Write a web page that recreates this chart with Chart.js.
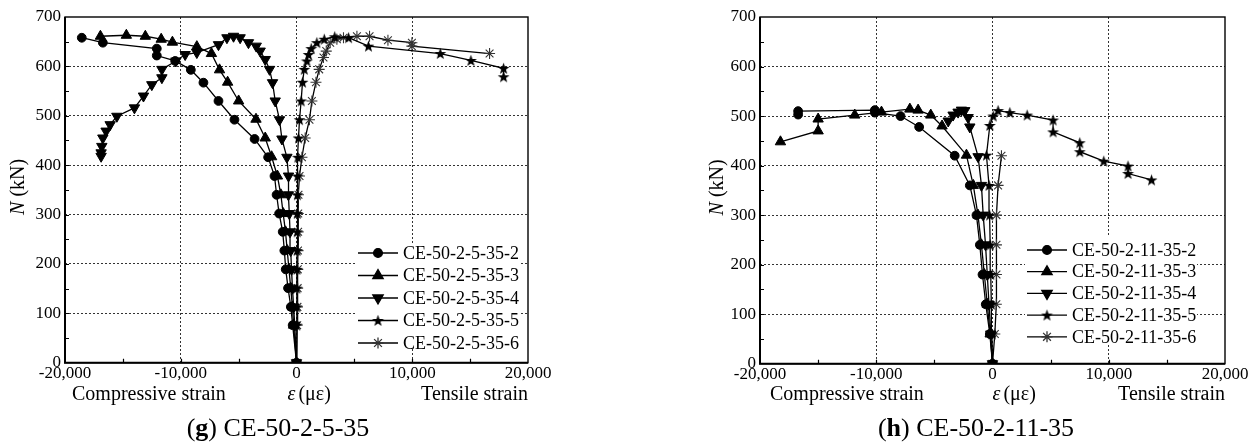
<!DOCTYPE html>
<html><head><meta charset="utf-8">
<script src="https://cdn.jsdelivr.net/npm/chart.js@4.4.0/dist/chart.umd.min.js"></script>
<style>
html,body{margin:0;padding:0;background:#fff;}
#wrap{position:relative;width:1252px;height:443px;overflow:hidden;background:#fff;}
canvas{position:absolute;top:0;}
</style></head><body>
<div id="wrap">
<canvas id="cg" width="626" height="443" style="left:0"></canvas>
<canvas id="ch" width="626" height="443" style="left:626px"></canvas>
</div>
<script>
// ---------- tick values / labels ----------
const xTickValues = [-20000, -10000, 0, 10000, 20000];
const xTickLabels = ['-20,000', '-10,000', '0', '10,000', '20,000'];
const yTickValues = [0, 100, 200, 300, 400, 500, 600, 700];
const yTickLabels = ['0', '100', '200', '300', '400', '500', '600', '700'];

// ---------- (g) CE-50-2-5-35 ----------
const gNames = ['CE-50-2-5-35-2', 'CE-50-2-5-35-3', 'CE-50-2-5-35-4', 'CE-50-2-5-35-5', 'CE-50-2-5-35-6'];
const g2X = [0, -330, -490, -730, -930, -1050, -1190, -1500, -1720, -1900, -2450, -3620, -5360, -6740, -8040, -9130, -10480, -12070, -12070, -16730, -18550];
const g2Y = [0, 76, 113, 151, 189, 227, 265, 302, 340, 378, 416, 453, 492, 530, 567, 593, 611, 622, 636, 648, 658];
const g3X = [0, -250, -350, -500, -650, -800, -950, -1150, -1350, -1650, -2150, -2700, -3500, -5000, -5950, -6650, -7350, -8610, -10720, -11690, -13060, -14700, -16940];
const g3Y = [0, 76, 113, 151, 189, 227, 265, 302, 340, 378, 417, 455, 493, 530, 568, 593, 626, 640, 649, 655, 661, 663, 661];
const g4X = [0, -150, -250, -350, -430, -500, -560, -620, -700, -690, -830, -1260, -1470, -1840, -2070, -2330, -2700, -3140, -3480, -4150, -4870, -5440, -6010, -6740, -8610, -9620, -10420, -11630, -11630, -12500, -13220, -14000, -15520, -16100, -16450, -16730, -16820, -16880, -16880];
const g4Y = [0, 76, 113, 151, 189, 227, 265, 302, 340, 378, 416, 453, 492, 530, 567, 594, 614, 631, 641, 648, 658, 661, 658, 644, 628, 624, 611, 594, 577, 563, 540, 516, 499, 482, 469, 455, 438, 425, 418];
const g5X = [0, 20, 30, 30, 40, 50, 60, 70, 80, 100, 120, 170, 260, 400, 520, 670, 900, 1040, 1270, 1760, 2400, 3300, 4500, 6220, 12420, 15070, 17890, 17890];
const g5Y = [0, 76, 113, 151, 189, 227, 265, 302, 340, 378, 416, 455, 492, 530, 568, 594, 611, 624, 636, 648, 655, 660, 658, 641, 626, 612, 596, 579];
const g6X = [0, 60, 80, 100, 110, 130, 140, 150, 170, 260, 470, 750, 1120, 1330, 1680, 1960, 2330, 2570, 2910, 3490, 4060, 5220, 6310, 7900, 9970, 9970, 16680];
const g6Y = [0, 76, 113, 151, 189, 227, 265, 302, 340, 378, 416, 455, 492, 530, 568, 594, 618, 631, 648, 655, 658, 661, 661, 653, 648, 641, 626];

// ---------- (h) CE-50-2-11-35 ----------
const hNames = ['CE-50-2-11-35-2', 'CE-50-2-11-35-3', 'CE-50-2-11-35-4', 'CE-50-2-11-35-5', 'CE-50-2-11-35-6'];
const h2X = [0, -230, -580, -860, -1090, -1380, -1950, -3250, -6310, -7910, -10120, -10120, -16720, -16720];
const h2Y = [0, 60, 120, 180, 240, 300, 360, 420, 478, 500, 507, 512, 510, 503];
const h3X = [0, -200, -450, -700, -950, -1250, -1650, -2240, -4340, -5310, -6400, -7110, -9550, -11850, -15000, -15000, -18240];
const h3Y = [0, 60, 120, 180, 240, 300, 360, 421, 480, 502, 512, 514, 508, 502, 494, 470, 448];
const h4X = [0, -150, -300, -450, -600, -800, -950, -1240, -1950, -2100, -2390, -2670, -2960, -3390, -3810];
const h4Y = [0, 60, 120, 180, 240, 300, 360, 418, 478, 497, 511, 512, 508, 502, 490];
const h5X = [0, -50, -100, -150, -200, -250, -300, -520, -230, 60, 480, 1490, 2980, 5210, 5210, 7510, 7510, 9570, 11660, 11660, 13680];
const h5Y = [0, 60, 120, 180, 240, 300, 360, 421, 481, 500, 511, 507, 502, 492, 468, 446, 428, 409, 399, 384, 371];
const h6X = [0, 200, 330, 340, 340, 340, 480, 770];
const h6Y = [0, 60, 120, 180, 240, 300, 360, 420];

// ---------- styling ----------
const W = 626, H = 443;
const FONT = '"Liberation Serif", "Times New Roman", serif';

function starImage() {
  const c = document.createElement('canvas');
  c.width = 13; c.height = 13;
  const k = c.getContext('2d');
  k.fillStyle = '#000';
  k.beginPath();
  for (let i = 0; i < 10; i++) {
    const r = i % 2 ? 2.5 : 6.2;
    const a = -Math.PI / 2 + i * Math.PI / 5;
    const px = 6.5 + r * Math.cos(a), py = 7 + r * Math.sin(a);
    if (i) k.lineTo(px, py); else k.moveTo(px, py);
  }
  k.closePath();
  k.fill();
  return c;
}
const STAR = starImage();
const markers = [
  { pointStyle: 'circle', radius: 4.4, rotation: 0, bw: 1, color: '#000' },
  { pointStyle: 'triangle', radius: 6, rotation: 0, bw: 1, color: '#000' },
  { pointStyle: 'triangle', radius: 6, rotation: 180, bw: 1, color: '#000' },
  { pointStyle: STAR, radius: 6, rotation: 0, bw: 0, color: '#000' },
  { pointStyle: 'star', radius: 5.5, rotation: 0, bw: 1.1, color: '#333' }
];

function makeDeco(cfg) {
  return {
    id: 'deco' + cfg.id,
    afterDraw(chart) {
      const ctx = chart.ctx, a = chart.chartArea, xs = chart.scales.x, ys = chart.scales.y;
      ctx.save();
      // inward ticks
      ctx.strokeStyle = '#000';
      ctx.lineWidth = 1.2;
      ctx.beginPath();
      for (let v = 50; v < 700; v += 50) {
        const py = Math.round(ys.getPixelForValue(v)) + 0.5;
        ctx.moveTo(a.left, py); ctx.lineTo(a.left + 4, py);
      }
      for (let v = -15000; v < 20000; v += 5000) {
        const px = Math.round(xs.getPixelForValue(v)) + 0.5;
        ctx.moveTo(px, a.bottom); ctx.lineTo(px, a.bottom - 4);
      }
      ctx.stroke();
      // frame
      ctx.lineWidth = 1.4;
      ctx.strokeRect(a.left, a.top, a.right - a.left, a.bottom - a.top);
      ctx.lineWidth = 2;
      ctx.beginPath();
      ctx.moveTo(a.left, a.top); ctx.lineTo(a.left, a.bottom); ctx.lineTo(a.right, a.bottom);
      ctx.stroke();

      // legend
      const L = cfg.legend;
      ctx.fillStyle = '#fff';
      ctx.fillRect(L.box[0], L.box[1], L.box[2] - L.box[0], L.box[3] - L.box[1]);
      ctx.font = '18px ' + FONT;
      ctx.textBaseline = 'middle';
      ctx.textAlign = 'left';
      chart.data.datasets.forEach((ds, i) => {
        const y = L.y0 + i * L.dy;
        const m = markers[i];
        ctx.strokeStyle = '#000';
        ctx.lineWidth = 1.3;
        ctx.beginPath(); ctx.moveTo(L.x0, y); ctx.lineTo(L.x1, y); ctx.stroke();
        ctx.fillStyle = m.color; ctx.strokeStyle = m.color;
        Chart.helpers.drawPoint(ctx, { pointStyle: m.pointStyle, radius: m.radius, rotation: m.rotation, borderWidth: m.bw }, (L.x0 + L.x1) / 2, y);
        ctx.fillStyle = '#000';
        ctx.fillText(ds.label, L.tx, y + 1);
      });

      // axis texts
      ctx.fillStyle = '#000';
      ctx.textBaseline = 'alphabetic';
      ctx.font = '20px ' + FONT;
      ctx.textAlign = 'left';
      ctx.fillText('Compressive strain', a.left + cfg.compOff, 400);
      ctx.textAlign = 'right';
      ctx.fillText('Tensile strain', a.right, 400);
      // epsilon label
      ctx.textAlign = 'left';
      let ex = xs.getPixelForValue(0) + cfg.epsOff;
      ctx.font = 'italic 20px ' + FONT;
      ctx.fillText('ε', ex, 400);
      ex += ctx.measureText('ε').width + 3;
      ctx.font = '20px ' + FONT;
      ctx.fillText('(με)', ex, 400);

      // y title
      ctx.save();
      ctx.translate(cfg.yTitleX, (a.top + a.bottom) / 2 - 3);
      ctx.rotate(-Math.PI / 2);
      ctx.textBaseline = 'middle';
      ctx.font = 'italic 20px ' + FONT;
      const wN = ctx.measureText('N').width;
      ctx.font = '20px ' + FONT;
      const wR = ctx.measureText(' (kN)').width;
      let sx = -(wN + wR) / 2;
      ctx.font = 'italic 20px ' + FONT;
      ctx.fillText('N', sx, 0);
      ctx.font = '20px ' + FONT;
      ctx.fillText(' (kN)', sx + wN, 0);
      ctx.restore();

      // caption
      ctx.font = '26px ' + FONT;
      const p1 = '(', p3 = ') ' + cfg.capText;
      const w1 = ctx.measureText(p1).width, w3 = ctx.measureText(p3).width;
      ctx.font = 'bold 26px ' + FONT;
      const w2 = ctx.measureText(cfg.capLetter).width;
      let cx = cfg.capX - (w1 + w2 + w3) / 2;
      ctx.textAlign = 'left';
      ctx.font = '26px ' + FONT;
      ctx.fillText(p1, cx, 436);
      ctx.font = 'bold 26px ' + FONT;
      ctx.fillText(cfg.capLetter, cx + w1, 436);
      ctx.font = '26px ' + FONT;
      ctx.fillText(p3, cx + w1 + w2, 436);
      ctx.restore();
    }
  };
}

function gridColor(min, max) {
  return c => (c.tick && (c.tick.value === min || c.tick.value === max)) ? 'rgba(0,0,0,0)' : '#333';
}

function makeChart(id, names, xArr, yArr, cfg) {
  const datasets = names.map((n, i) => ({
    label: n,
    data: xArr[i].map((x, j) => ({ x: x, y: yArr[i][j] })),
    showLine: true,
    borderColor: '#000',
    backgroundColor: '#000',
    borderWidth: 1.3,
    tension: 0,
    pointStyle: markers[i].pointStyle,
    pointRadius: markers[i].radius,
    pointRotation: markers[i].rotation,
    pointBorderWidth: markers[i].bw,
    pointBorderColor: markers[i].color,
    pointBackgroundColor: markers[i].color
  }));
  return new Chart(document.getElementById(id), {
    type: 'scatter',
    data: { datasets },
    options: {
      responsive: false,
      animation: false,
      devicePixelRatio: 1,
      events: [],
      layout: { padding: { left: 0, top: cfg.area.top, right: W - cfg.area.right, bottom: 0 } },
      plugins: { legend: { display: false }, tooltip: { enabled: false } },
      scales: {
        x: {
          type: 'linear', min: -20000, max: 20000,
          afterBuildTicks: s => { s.ticks = xTickValues.map(v => ({ value: v })); },
          afterFit: s => { s.height = H - cfg.area.bottom; },
          ticks: {
            autoSkip: false, maxRotation: 0, padding: 1, color: '#000',
            font: { family: FONT, size: 17 },
            callback: (v, i) => xTickLabels[i]
          },
          grid: { color: gridColor(-20000, 20000), lineWidth: 1, drawTicks: false },
          border: { display: false, dash: [2, 2] }
        },
        y: {
          type: 'linear', min: 0, max: 700,
          afterBuildTicks: s => { s.ticks = yTickValues.map(v => ({ value: v })); },
          afterFit: s => { s.width = cfg.area.left; },
          ticks: {
            autoSkip: false, padding: 4, color: '#000',
            font: { family: FONT, size: 17 },
            callback: (v, i) => yTickLabels[i]
          },
          grid: { color: gridColor(0, 700), lineWidth: 1, drawTicks: false },
          border: { display: false, dash: [2, 2] }
        }
      }
    },
    plugins: [makeDeco(cfg)]
  });
}

makeChart('cg', gNames, [g2X, g3X, g4X, g5X, g6X], [g2Y, g3Y, g4Y, g5Y, g6Y], {
  id: 'g',
  area: { left: 65, right: 528, top: 17, bottom: 362.7 },
  legend: { box: [356, 243, 519, 348], x0: 358, x1: 398, tx: 403, y0: 253, dy: 22.5 },
  compOff: 7, epsOff: -9, yTitleX: 18.5,
  capX: 278, capLetter: 'g', capText: 'CE-50-2-5-35'
});
makeChart('ch', hNames, [h2X, h3X, h4X, h5X, h6X], [h2Y, h3Y, h4Y, h5Y, h6Y], {
  id: 'h',
  area: { left: 134, right: 599, top: 17, bottom: 363.7 },
  legend: { box: [399, 236, 571, 344], x0: 401, x1: 441, tx: 446, y0: 250, dy: 21.7 },
  compOff: 10, epsOff: 0, yTitleX: 92,
  capX: 350, capLetter: 'h', capText: 'CE-50-2-11-35'
});
</script>
</body></html>
